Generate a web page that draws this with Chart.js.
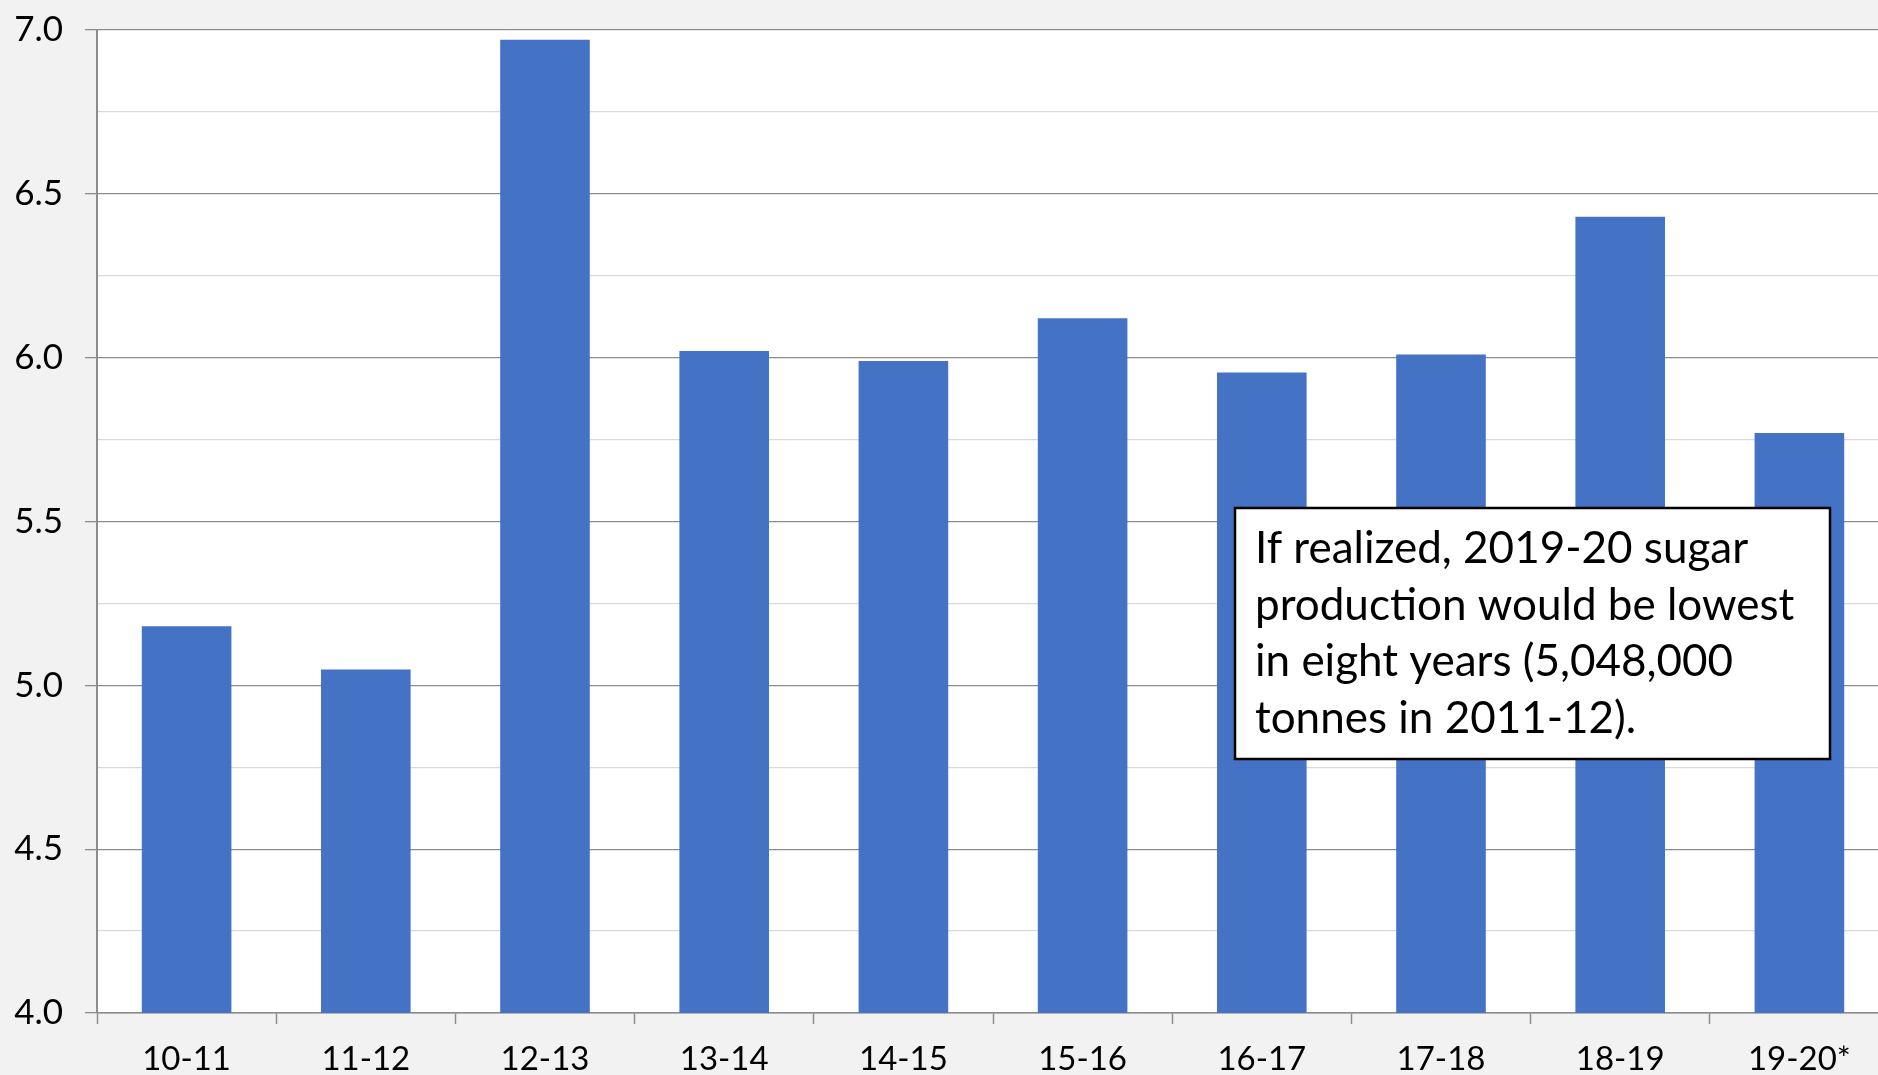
<!DOCTYPE html>
<html>
<head>
<meta charset="utf-8">
<script src="https://cdn.jsdelivr.net/npm/chart.js@4"></script>
<style>
  html, body { margin: 0; padding: 0; background: #f2f2f2; }
  #wrap { width: 1878px; height: 1075px; }
</style>
</head>
<body>
<div id="wrap"><canvas id="sugarChart" width="1878" height="1075"></canvas></div>
<script>
// marketing years
const seasons = ['10-11', '11-12', '12-13', '13-14', '14-15', '15-16', '16-17', '17-18', '18-19', '19-20*'];
// sugar production, million tonnes
const production = [5.18, 5.048, 6.97, 6.02, 5.99, 6.12, 5.955, 6.01, 6.43, 5.77];
// axis range / tick step
const yMin = 4.0;
const yMax = 7.0;
const majorStep = 0.5;
const minorStep = 0.25;
// note in the box
const noteLines = [
  'If realized, 2019-20 sugar',
  'production would be lowest',
  'in eight years (5,048,000',
  'tonnes in 2011-12).'
];

const FONT = 'Lato, "Open Sans", sans-serif';
const isMajor = (v) => Math.abs(v / majorStep - Math.round(v / majorStep)) < 1e-6;

// grey page, white plot area
const plotBackground = {
  id: 'plotBackground',
  beforeDraw(chart) {
    const { ctx, chartArea: a } = chart;
    ctx.save();
    ctx.fillStyle = '#f2f2f2';
    ctx.fillRect(0, 0, chart.width, chart.height);
    ctx.fillStyle = '#ffffff';
    ctx.fillRect(a.left, a.top, a.right - a.left, a.bottom - a.top);
    ctx.restore();
  }
};

// the original plot runs a little past the right edge of the picture
const overflowRight = {
  id: 'overflowRight',
  afterLayout(chart) {
    const extra = 11;
    const x = chart.scales.x;
    x.right += extra;
    x.width += extra;
    x.configure();
    chart.chartArea.right += extra;
    chart.chartArea.width += extra;
  }
};

// the text box over the right-hand bars
const noteBox = {
  id: 'noteBox',
  afterDraw(chart) {
    const { ctx, chartArea: a } = chart;
    const x = a.left + 1138, y = a.top + 478, w = 595, h = 251;
    ctx.save();
    ctx.fillStyle = '#ffffff';
    ctx.fillRect(x, y, w, h);
    ctx.strokeStyle = '#000000';
    ctx.lineWidth = 2.5;
    ctx.strokeRect(x, y, w, h);
    ctx.fillStyle = '#000000';
    ctx.font = '44px ' + FONT;
    ctx.textBaseline = 'alphabetic';
    noteLines.forEach((line, i) => {
      ctx.fillText(line, x + 20, y + 55 + i * 56.7);
    });
    ctx.restore();
  }
};

const ctx = document.getElementById('sugarChart').getContext('2d');

const config = {
  type: 'bar',
  data: {
    labels: seasons,
    datasets: [
      {
        label: 'Production',
        data: production,
        backgroundColor: '#4472c4',
        borderWidth: 0,
        barPercentage: 0.5,
        categoryPercentage: 1.0,
      },
    ],
  },
  options: {
    responsive: false,
    animation: false,
    layout: {
      padding: { top: 30, right: 0, left: 0, bottom: 0 },
    },
    plugins: {
      legend: { display: false },
      tooltip: { enabled: false },
    },
    scales: {
      x: {
        offset: true,
        grid: {
          offset: true,
          drawOnChartArea: false,
          tickLength: 11,
          tickColor: '#8c8c8c',
          tickWidth: 1.5,
        },
        border: { color: '#8c8c8c', width: 1.5 },
        ticks: {
          color: '#000000',
          font: { family: FONT, size: 33 },
          padding: 16,
          maxRotation: 0,
          autoSkip: false,
        },
        afterFit(scale) {
          scale.height = 62;
          scale.paddingLeft = 0;
          scale.paddingRight = 0;
        },
      },
      y: {
        min: yMin,
        max: yMax,
        grid: {
          color: (c) => (c.tick && isMajor(c.tick.value) ? '#8c8c8c' : '#d9d9d9'),
          lineWidth: 1.3,
          tickColor: (c) => (c.tick && isMajor(c.tick.value) ? '#8c8c8c' : 'rgba(0,0,0,0)'),
          tickLength: 12,
        },
        border: { color: '#8c8c8c', width: 2 },
        ticks: {
          stepSize: minorStep,
          color: '#000000',
          font: { family: FONT, size: 35 },
          padding: 22,
          callback: (v) => (isMajor(v) ? Number(v).toFixed(1) : ''),
        },
        afterFit(scale) {
          scale.width = 97;
          scale.paddingTop = 0;
          scale.paddingBottom = 0;
        },
      },
    },
  },
  plugins: [plotBackground, overflowRight, noteBox],
};

const sugarChart = new Chart(ctx, config);
</script>
</body>
</html>
